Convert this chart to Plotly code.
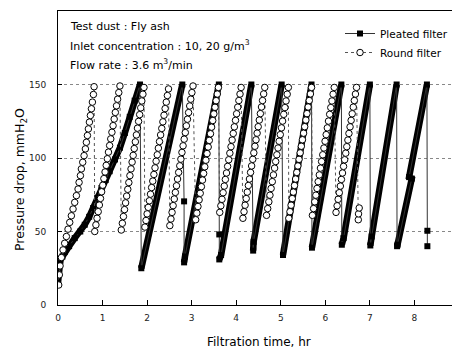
import plotly.graph_objects as go

# ---------------- data ----------------
x_ticks = [0, 1, 2, 3, 4, 5, 6, 7, 8, 9]
y_ticks = [0, 50, 100, 150, 200]

# Pleated filter: dense black squares (drawn as a thick stripe) + drop lines
pleated_time = [0, 0.02, 0.05, 0.1, 0.15, 0.25, 0.375, 0.5, 0.6, 0.7, 0.79, 0.88, 0.975, 1.07, 1.16,
                1.28, 1.39, 1.5, 1.61, 1.72, 1.84,
                1.87, 2.79,
                2.83, 2.83,
                2.85, 3.61,
                3.62, 3.62,
                3.66, 4.34,
                4.38,
                4.39, 5.02,
                5.05, 5.69,
                5.70, 6.36,
                6.37,
                6.41, 7.00,
                7.01,
                7.04, 7.60,
                7.61,
                7.62, 7.94, 7.88, 8.28,
                8.29, 8.29]
pleated_dp = [15, 24, 30, 33, 36, 40, 45.5, 50, 54.6, 60, 66, 73, 79.6, 85, 91,
              99, 107, 117, 128, 139, 150,
              25, 150,
              70.5, 29,
              33, 150,
              48, 31,
              34, 150,
              37,
              43, 150,
              34, 150,
              39, 150,
              41,
              45.5, 150,
              40.5,
              46.6, 150,
              40,
              41, 86, 87, 150,
              50.5, 40]

# Round filter: open circles
round_time = [
    # cycle 1
    0.016, 0.03, 0.046, 0.076, 0.113, 0.15, 0.188, 0.225, 0.263, 0.30, 0.338, 0.375, 0.413, 0.45,
    0.473, 0.503, 0.525, 0.555, 0.585, 0.615, 0.637, 0.66, 0.682, 0.705, 0.727, 0.75, 0.772, 0.795, 0.81,
    # cycle 2
    0.825, 0.851, 0.876, 0.902, 0.928, 0.953, 0.979, 1.005, 1.030, 1.056, 1.082, 1.107, 1.133, 1.159,
    1.184, 1.210, 1.236, 1.261, 1.287, 1.313, 1.338, 1.364, 1.390,
    # cycle 3
    1.420, 1.444, 1.469, 1.493, 1.517, 1.541, 1.566, 1.590, 1.614, 1.639, 1.663, 1.687, 1.711, 1.736,
    1.760, 1.784, 1.809, 1.833, 1.857, 1.881, 1.906, 1.930,
    # cycle 4
    1.950, 1.975, 2.000, 2.026, 2.051, 2.076, 2.101, 2.127, 2.152, 2.177, 2.202, 2.228, 2.253, 2.278,
    2.303, 2.329, 2.354, 2.379, 2.404, 2.430, 2.455, 2.480,
    # cycle 5
    2.510, 2.535, 2.560, 2.584, 2.609, 2.634, 2.659, 2.683, 2.708, 2.733, 2.758, 2.782, 2.807, 2.832,
    2.857, 2.881, 2.906, 2.931, 2.956, 2.980, 3.005, 3.030,
    # cycle 6
    3.090, 3.116, 3.141, 3.167, 3.192, 3.218, 3.243, 3.269, 3.294, 3.320, 3.345, 3.371, 3.396, 3.422,
    3.447, 3.473, 3.498, 3.524, 3.549, 3.575, 3.600,
    # cycle 7
    3.630, 3.655, 3.681, 3.706, 3.731, 3.756, 3.782, 3.807, 3.832, 3.857, 3.883, 3.908, 3.933, 3.958,
    3.984, 4.009, 4.034, 4.059, 4.085, 4.110,
    # cycle 8
    4.150, 4.175, 4.199, 4.224, 4.248, 4.273, 4.297, 4.322, 4.346, 4.371, 4.395, 4.420, 4.444, 4.469,
    4.493, 4.518, 4.542, 4.567, 4.591, 4.616, 4.640,
    # cycle 9
    4.680, 4.706, 4.732, 4.757, 4.783, 4.809, 4.835, 4.861, 4.886, 4.912, 4.938, 4.964, 4.989, 5.015,
    5.041, 5.067, 5.093, 5.118, 5.144, 5.170,
    # cycle 10
    5.180, 5.206, 5.231, 5.257, 5.282, 5.308, 5.333, 5.359, 5.384, 5.410, 5.435, 5.461, 5.486, 5.512,
    5.537, 5.563, 5.588, 5.614, 5.639, 5.665, 5.690,
    # cycle 11
    5.710, 5.736, 5.762, 5.787, 5.813, 5.839, 5.865, 5.891, 5.916, 5.942, 5.968, 5.994, 6.019, 6.045,
    6.071, 6.097, 6.123, 6.148, 6.174, 6.200,
    # cycle 12
    6.240, 6.264, 6.288, 6.313, 6.337, 6.361, 6.385, 6.409, 6.434, 6.458, 6.482, 6.506, 6.530, 6.555,
    6.579, 6.603, 6.627, 6.651, 6.676, 6.700,
    # cycle 13
    6.740, 6.745, 6.760,
]
round_dp = [
    # cycle 1
    13.6, 20.5, 26.6, 32.3, 37.5, 42.0, 46.6, 51.6, 56.2, 60.7, 65.3, 69.8, 74.4, 78.9,
    83.4, 88.0, 92.6, 97.1, 101.6, 106.2, 110.7, 115.3, 119.8, 124.4, 128.9, 133.5, 138.0, 143.2, 148.5,
    # cycle 2
    50.0, 54.5, 59.0, 63.5, 68.0, 72.5, 77.0, 81.5, 86.0, 90.5, 95.0, 99.5, 104.0, 108.5,
    113.0, 117.5, 122.0, 126.5, 131.0, 135.5, 140.0, 144.5, 149.0,
    # cycle 3
    51.0, 55.6, 60.2, 64.9, 69.5, 74.1, 78.7, 83.3, 88.0, 92.6, 97.2, 101.8, 106.4, 111.0,
    115.7, 120.3, 124.9, 129.5, 134.1, 138.8, 143.4, 148.0,
    # cycle 4
    53.0, 57.5, 62.0, 66.4, 70.9, 75.4, 79.9, 84.3, 88.8, 93.3, 97.8, 102.2, 106.7, 111.2,
    115.7, 120.1, 124.6, 129.1, 133.6, 138.0, 142.5, 147.0,
    # cycle 5
    54.0, 58.5, 63.0, 67.6, 72.1, 76.6, 81.1, 85.7, 90.2, 94.7, 99.2, 103.8, 108.3, 112.8,
    117.3, 121.9, 126.4, 130.9, 135.4, 140.0, 144.5, 149.0,
    # cycle 6
    58.0, 62.5, 67.0, 71.5, 76.0, 80.5, 85.0, 89.5, 94.0, 98.5, 103.0, 107.5, 112.0, 116.5,
    121.0, 125.5, 130.0, 134.5, 139.0, 143.5, 148.0,
    # cycle 7
    63.0, 67.5, 71.9, 76.4, 80.9, 85.4, 89.8, 94.3, 98.8, 103.3, 107.7, 112.2, 116.7, 121.2,
    125.6, 130.1, 134.6, 139.1, 143.5, 148.0,
    # cycle 8
    59.0, 63.5, 67.9, 72.4, 76.8, 81.3, 85.7, 90.2, 94.6, 99.1, 103.5, 108.0, 112.4, 116.9,
    121.3, 125.8, 130.2, 134.7, 139.1, 143.6, 148.0,
    # cycle 9
    61.0, 65.6, 70.2, 74.7, 79.3, 83.9, 88.5, 93.1, 97.6, 102.2, 106.8, 111.4, 115.9, 120.5,
    125.1, 129.7, 134.3, 138.8, 143.4, 148.0,
    # cycle 10
    59.0, 63.5, 67.9, 72.4, 76.8, 81.3, 85.7, 90.2, 94.6, 99.1, 103.5, 108.0, 112.4, 116.9,
    121.3, 125.8, 130.2, 134.7, 139.1, 143.6, 148.0,
    # cycle 11
    61.0, 65.6, 70.2, 74.7, 79.3, 83.9, 88.5, 93.1, 97.6, 102.2, 106.8, 111.4, 115.9, 120.5,
    125.1, 129.7, 134.3, 138.8, 143.4, 148.0,
    # cycle 12
    63.0, 67.5, 71.9, 76.4, 80.9, 85.4, 89.8, 94.3, 98.8, 103.3, 107.7, 112.2, 116.7, 121.2,
    125.6, 130.1, 134.6, 139.1, 143.5, 148.0,
    # cycle 13
    58.0, 62.0, 66.0,
]

info_lines = ["Test dust : Fly ash",
              "Inlet concentration : 10, 20 g/m<sup>3</sup>",
              "Flow rate : 3.6 m<sup>3</sup>/min"]

# ---------------- build the thick stripe from rising runs of pleated data ----------------
segments = [[0]]
for i in range(1, len(pleated_dp)):
    if pleated_dp[i] < pleated_dp[i - 1] - 5:
        segments.append([i])
    else:
        segments[-1].append(i)
stripe_x, stripe_y = [], []
for seg in segments:
    ys = [pleated_dp[j] for j in seg]
    if len(seg) >= 2 and max(ys) - min(ys) > 30:
        stripe_x += [pleated_time[j] for j in seg] + [None]
        stripe_y += ys + [None]

FONT = "DejaVu Sans"

# plot area in page pixels (page has an 8px body margin)
PL, PR, PT, PB = 58, 459, 11, 305
FIG_W, FIG_H = 460, 350


def px_x(px):
    return (px - PL) / (PR - PL)


def px_y(py):
    return (PB - py) / (PB - PT)


fig = go.Figure()
fig.add_trace(go.Scatter(
    x=stripe_x, y=stripe_y, mode="lines", showlegend=False, hoverinfo="skip",
    line=dict(color="black", width=6.5)))
fig.add_trace(go.Scatter(
    x=pleated_time, y=pleated_dp, mode="lines+markers", name="Pleated filter",
    line=dict(color="#333333", width=1),
    marker=dict(symbol="square", size=6, color="black")))
fig.add_trace(go.Scatter(
    x=round_time, y=round_dp, mode="lines+markers", name="Round filter",
    line=dict(color="#555555", width=1, dash="dot"),
    marker=dict(symbol="circle", size=6.5, color="white", line=dict(color="black", width=1))))

# info text
info_y = [26.7, 45.7, 64.3]
for txt, py in zip(info_lines, info_y):
    fig.add_annotation(text=txt, xref="paper", yref="paper",
                       x=px_x(68), y=px_y(py),
                       xanchor="left", yanchor="middle", showarrow=False,
                       font=dict(family=FONT, size=11, color="black"))

# last x tick label sits on the right border; drawn as paper-referenced text so it is not dropped
fig.add_annotation(text=str(x_ticks[-1]), xref="paper", yref="paper",
                   x=1.0, y=px_y(318.5), xanchor="center", yanchor="middle",
                   showarrow=False, font=dict(family=FONT, size=9, color="#222222"))

# axis titles
fig.add_annotation(text="Filtration time, hr", xref="paper", yref="paper",
                   x=0.5, y=px_y(342), xanchor="center", yanchor="middle",
                   showarrow=False, font=dict(family=FONT, size=12, color="black"))
fig.add_annotation(text="Pressure drop, mmH<sub>2</sub>O", xref="paper", yref="paper",
                   x=px_x(20), y=px_y(180), xanchor="center", yanchor="middle",
                   textangle=-90, showarrow=False, font=dict(family=FONT, size=12.5, color="black"))

fig.update_layout(
    width=FIG_W, height=FIG_H,
    margin=dict(l=PL - 8, r=FIG_W - (PR - 8), t=PT - 8, b=FIG_H - (PB - 8), autoexpand=False),
    paper_bgcolor="white", plot_bgcolor="white",
    font=dict(family=FONT, size=10, color="black"),
    showlegend=True,
    legend=dict(x=px_x(340), y=px_y(19), xanchor="left", yanchor="top",
                bgcolor="rgba(0,0,0,0)", font=dict(family=FONT, size=10.5), tracegroupgap=0),
)
fig.update_xaxes(range=[0, 9], tickvals=x_ticks, ticktext=[str(v) for v in x_ticks[:-1]] + [""],
                 showline=True, linecolor="black", linewidth=1, mirror=True,
                 ticks="inside", ticklen=5, tickcolor="black", showgrid=False, zeroline=False,
                 tickfont=dict(family=FONT, size=9, color="#222222"), ticklabelstandoff=4)
fig.update_yaxes(range=[0, 200], tickvals=y_ticks, ticktext=[str(v) for v in y_ticks],
                 showline=True, linecolor="black", linewidth=1, mirror=True,
                 ticks="inside", ticklen=4, tickcolor="black",
                 showgrid=True, gridcolor="#888888", griddash="dot", gridwidth=1, zeroline=False,
                 tickfont=dict(family=FONT, size=9, color="#222222"), ticklabelstandoff=9)

fig.write_html("out.html")
